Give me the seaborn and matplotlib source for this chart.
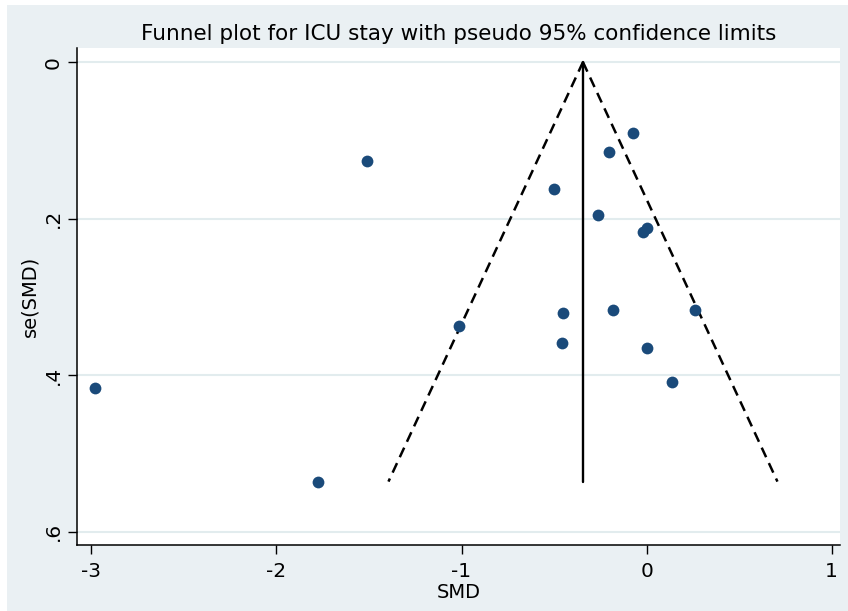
import matplotlib
matplotlib.use("Agg")
import matplotlib.pyplot as plt
import seaborn as sns
import pandas as pd
from matplotlib.patches import Rectangle

# ---- data ----
smd = [-0.075, -0.203, -1.509, -0.502, -0.260, 0.004, -0.017,
       -1.015, -0.450, -0.457, -0.179, 0.264, 0.000, 0.136,
       -2.983, -1.776]
se_smd = [0.090, 0.115, 0.126, 0.162, 0.195, 0.212, 0.217,
          0.337, 0.320, 0.359, 0.317, 0.317, 0.365, 0.409,
          0.416, 0.536]

pooled_x = [-0.344, -0.344]          # vertical line (pooled estimate)
pooled_se = [0.0, 0.536]
lower_x = [-0.344, -1.395]           # pseudo 95% limits
upper_x = [-0.344, 0.707]
limit_se = [0.0, 0.536]

xticks = [-3, -2, -1, 0, 1]
yticks = [0, 0.2, 0.4, 0.6]
ytick_labels = ["0", ".2", ".4", ".6"]

title = "Funnel plot for ICU stay with pseudo 95% confidence limits"

df = pd.DataFrame({"SMD": smd, "se": se_smd})

sns.set_theme(style="white")
plt.rcParams["font.family"] = ["DejaVu Sans"]
plt.rcParams["text.color"] = "black"
plt.rcParams["axes.labelcolor"] = "black"
plt.rcParams["xtick.color"] = "black"
plt.rcParams["ytick.color"] = "black"

BG = "#EAF0F3"
GRID = "#E2ECEE"
NAVY = "#1A4A7A"

fig = plt.figure(figsize=(8.48, 6.11), dpi=100)
fig.patch.set_facecolor("white")
fig.patches.append(Rectangle((7 / 848, 0), 1, 1 - 5 / 611, transform=fig.transFigure,
                             facecolor=BG, edgecolor="none", zorder=-10))

ax = fig.add_axes([77 / 848, 1 - 545 / 611, (840 - 77) / 848, (545 - 48) / 611])
ax.set_facecolor("white")

for yt in yticks:
    ax.axhline(yt, color=GRID, lw=1.5, zorder=0)

ax.plot(lower_x, limit_se, color="black", lw=1.8, ls=(0, (4.2, 2.6)), zorder=2)
ax.plot(upper_x, limit_se, color="black", lw=1.8, ls=(0, (4.2, 2.6)), zorder=2)
ax.plot(pooled_x, pooled_se, color="black", lw=1.7, zorder=2)

sns.scatterplot(data=df, x="SMD", y="se", ax=ax, s=72, color=NAVY,
                edgecolor=NAVY, linewidth=0, zorder=3)

ax.set_xlim(-3.078, 1.045)
ax.set_ylim(0.617, -0.018)

ax.set_xticks(xticks)
ax.set_xticklabels([str(v) for v in xticks], fontsize=14.5)
ax.set_yticks(yticks)
ax.set_yticklabels(ytick_labels, fontsize=14.5, rotation=90, va="center")

ax.tick_params(axis="both", direction="out", length=6.5, width=1.0, color="black",
               bottom=True, left=True, pad=6)
ax.tick_params(axis="y", pad=4)
for side in ["top", "right"]:
    ax.spines[side].set_visible(False)
for side in ["left", "bottom"]:
    ax.spines[side].set_color("black")
    ax.spines[side].set_linewidth(1.1)

ax.set_xlabel("SMD", fontsize=14, labelpad=1)
ax.set_ylabel("se(SMD)", fontsize=14, labelpad=3)

ax.set_title(title, fontsize=15.5, pad=6)

fig.savefig("out.png", dpi=100, facecolor=fig.get_facecolor())
